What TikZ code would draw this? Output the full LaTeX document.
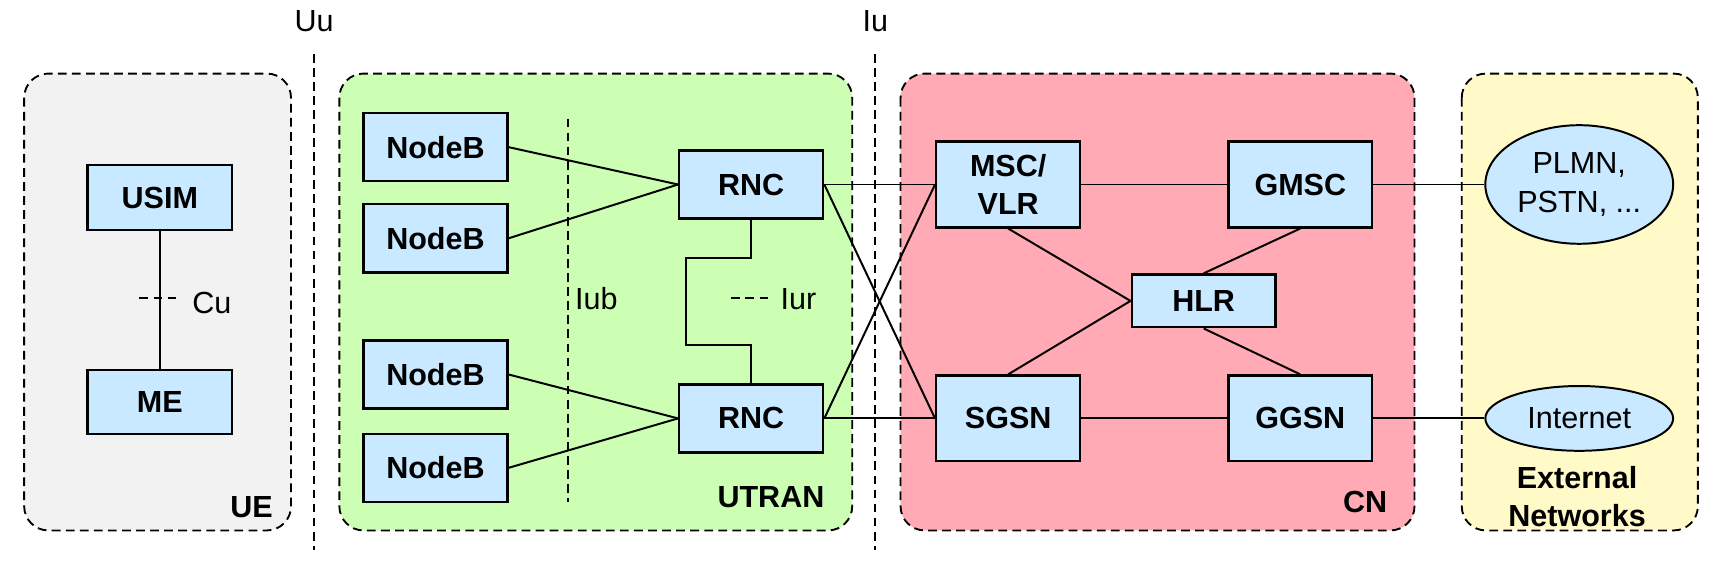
\documentclass[tikz,border=0pt]{standalone}
\usepackage{fontspec}
\setmainfont{Liberation Sans}
\usetikzlibrary{shapes.geometric}
\definecolor{uegray}{HTML}{F2F2F2}
\definecolor{utrangreen}{HTML}{CCFFB4}
\definecolor{cnpink}{HTML}{FFAAB4}
\definecolor{extyellow}{HTML}{FFFAC8}
\definecolor{blkblue}{HTML}{C8E9FF}
\tikzset{
  grp/.style={draw=black, line width=0.85pt, dash pattern=on 4pt off 2.4pt, rounded corners=11pt},
  ifline/.style={draw=black, line width=0.85pt, dash pattern=on 4pt off 2.4pt},
  blk/.style={draw=black, line width=1.1pt, fill=blkblue, inner sep=0pt, minimum width=65.5pt, minimum height=31pt, font=\fontsize{13.9}{17.5}\selectfont\bfseries, align=center},
  cloud/.style={ellipse, draw=black, line width=0.9pt, fill=blkblue, inner sep=0pt, minimum width=85.5pt, font=\fontsize{13.9}{17.5}\selectfont, align=center},
  conn/.style={draw=black, line width=0.9pt},
  lbl/.style={inner sep=0pt, font=\fontsize{13.9}{17.5}\selectfont},
  grplbl/.style={inner sep=0pt, font=\fontsize{13.9}{17.5}\selectfont\bfseries, align=center},
}
\begin{document}
\begin{tikzpicture}[x=0.5pt,y=-0.5pt]
\useasboundingbox (0,0) rectangle (1568,522);
% group areas
\path[grp, fill=uegray] (22,67) rectangle (265,483);
\path[grp, fill=utrangreen] (309,67) rectangle (776,483);
\path[grp, fill=cnpink] (820,67) rectangle (1288,483);
\path[grp, fill=extyellow] (1331,67) rectangle (1546,483);
% interface lines
\path[ifline] (286,49) -- (286,501);
\path[ifline] (797,49) -- (797,501);
\path[ifline] (517,108) -- (517,457);
\node[lbl] (uu) at (286,19) {Uu};
\node[lbl] (iu) at (797,19) {Iu};
% UE
\node[blk, minimum width=66pt, minimum height=29.5pt] (usim) at (145.5,180) {USIM};
\node[blk, minimum width=66pt, minimum height=29pt] (me) at (145.5,366) {ME};
\draw[conn] (usim.south) -- (me.north);
\coordinate (cua) at (127,271);
\coordinate (cub) at (165,271);
\path[ifline] (cua) -- (cub);
\node[lbl] (cu) at (193,276) {Cu};
\node[grplbl] (ue) at (229,462) {UE};
% UTRAN
\node[blk] (nb1) at (396.5,134) {NodeB};
\node[blk] (nb2) at (396.5,217) {NodeB};
\node[blk] (nb3) at (396.5,341) {NodeB};
\node[blk] (nb4) at (396.5,426) {NodeB};
\node[blk] (rnc1) at (684,168) {RNC};
\node[blk] (rnc2) at (684,381) {RNC};
\draw[conn] (nb1.east) -- (rnc1.west);
\draw[conn] (nb2.east) -- (rnc1.west);
\draw[conn] (nb3.east) -- (rnc2.west);
\draw[conn] (nb4.east) -- (rnc2.west);
\draw[conn] (rnc1.south) -- (684,235) -- (625,235) -- (625,314) -- (684,314) -- (rnc2.north);
\coordinate (iura) at (666,271);
\coordinate (iurb) at (699,271);
\path[ifline] (iura) -- (iurb);
\node[lbl] (iub) at (543,272) {Iub};
\node[lbl] (iur) at (727,272) {Iur};
\node[grplbl] (utran) at (702,453) {UTRAN};
% CN
\node[blk, minimum height=39pt] (msc) at (918,168) {MSC/\\VLR};
\node[blk, minimum height=39pt] (sgsn) at (918,381) {SGSN};
\node[blk, minimum height=39pt] (gmsc) at (1184,168) {GMSC};
\node[blk, minimum height=39pt] (ggsn) at (1184,381) {GGSN};
\node[blk, minimum height=24pt] (hlr) at (1096,274) {HLR};
\node[grplbl] (cn) at (1243,457) {CN};
\draw[conn] (rnc1.east) -- (msc.west);
\draw[conn] (rnc1.east) -- (sgsn.west);
\draw[conn] (rnc2.east) -- (msc.west);
\draw[conn] (rnc2.east) -- (sgsn.west);
\draw[conn] (msc.east) -- (gmsc.west);
\draw[conn] (sgsn.east) -- (ggsn.west);
\draw[conn] (msc.south) -- (hlr.west);
\draw[conn] (sgsn.north) -- (hlr.west);
\draw[conn] (gmsc.south) -- (hlr.north);
\draw[conn] (hlr.south) -- (ggsn.north);
% External
\node[cloud, minimum height=54pt] (plmn) at (1438,168) {PLMN,\\PSTN, ...};
\node[cloud, minimum height=29.5pt] (inet) at (1438,381) {Internet};
\draw[conn] (gmsc.east) -- (plmn.west);
\draw[conn] (ggsn.east) -- (inet.west);
\node[grplbl] (ext) at (1436,452) {External\\Networks};
\end{tikzpicture}
\end{document}
